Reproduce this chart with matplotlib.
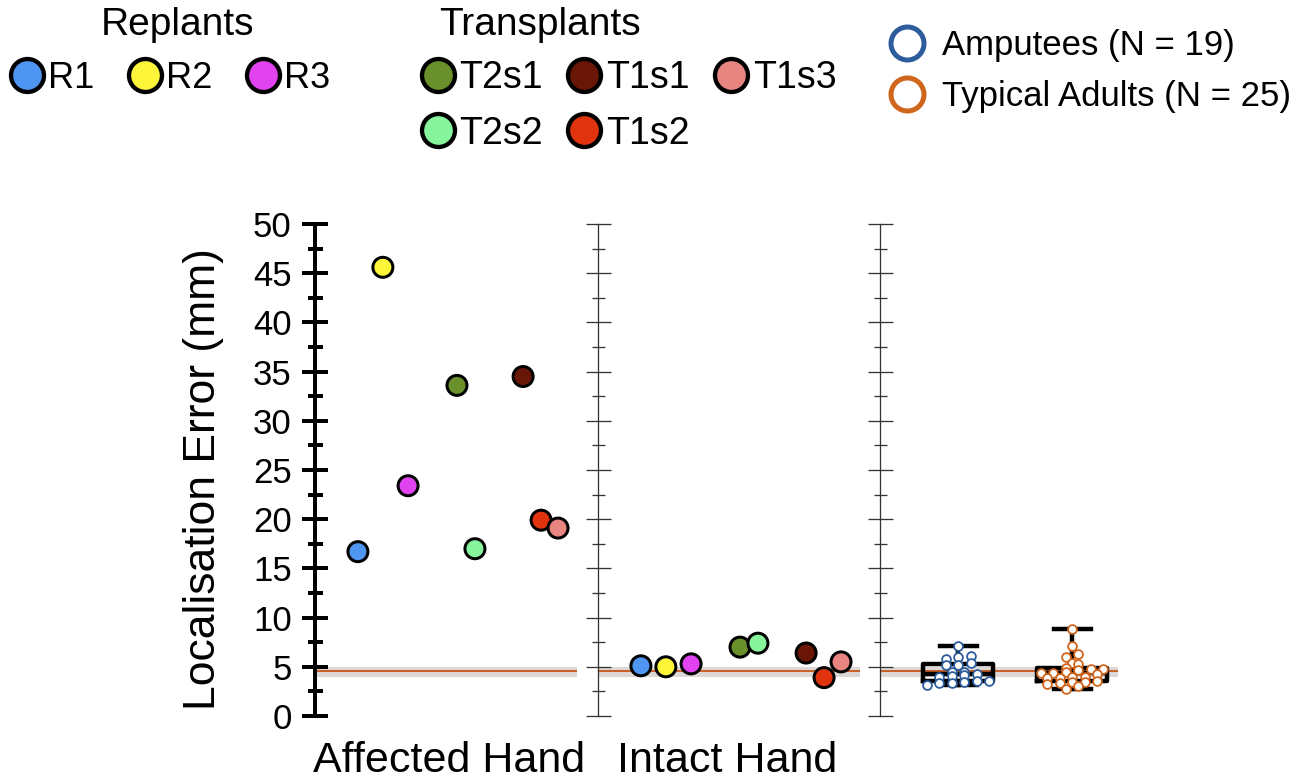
import numpy as np
import matplotlib
matplotlib.use("Agg")
import matplotlib.pyplot as plt
from matplotlib.lines import Line2D
from matplotlib.ticker import MultipleLocator

plt.rcParams['font.family'] = ['Liberation Sans', 'DejaVu Sans']

# ---------------- data ----------------
subjects = ['R1', 'R2', 'R3', 'T2s1', 'T2s2', 'T1s1', 'T1s2', 'T1s3']
subject_colors = ['#4f95f2', '#fdf53a', '#e043ef', '#69902a', '#86f59c',
                  '#6a1606', '#e2330f', '#e98581']
affected_error = [16.7, 45.6, 23.4, 33.6, 17.0, 34.5, 19.9, 19.1]
intact_error = [5.1, 5.0, 5.3, 7.0, 7.4, 6.4, 3.9, 5.5]
subject_x = [1.72, 2.72, 3.73, 5.69, 6.41, 8.34, 9.06, 9.74]

replants = ['R1', 'R2', 'R3']
transplants = ['T2s1', 'T2s2', 'T1s1', 'T1s2', 'T1s3']

amputees = [7.1, 5.76, 6.03, 6.1, 5.18, 5.35, 5.18, 4.5, 4.43, 4.07, 4.17,
            4.23, 3.93, 3.59, 3.39, 3.49, 3.59, 3.32, 3.15]
typical_adults = [8.8, 7.15, 6.3, 6.03, 5.42, 5.25, 4.74, 4.67, 4.84, 4.74,
                  4.4, 4.33, 4.5, 4.27, 3.83, 4.0, 3.93, 3.83, 3.59, 3.49,
                  3.49, 3.32, 3.05, 3.25, 2.71]
group_labels = ['Amputees (N = 19)', 'Typical Adults (N = 25)']
group_colors = ['#2e5d9e', '#d0651c']

ref_mean = 4.57
ref_lo, ref_hi = 3.95, 5.0

panel_labels = ['Affected Hand', 'Intact Hand']
ylabel = 'Localisation Error (mm)'

# ---------------- figure ----------------
W, H = 1299, 781
PX = 72 / 100.0
fig = plt.figure(figsize=(W / 100, H / 100), dpi=100)


def px_axes(left, right, top, bottom):
    return fig.add_axes([left / W, 1 - bottom / H, (right - left) / W, (bottom - top) / H])


ax1 = px_axes(315, 577, 224, 716)
ax2 = px_axes(598, 860, 224, 716)
ax3 = px_axes(880, 1118, 224, 716)

for ax in (ax1, ax2, ax3):
    ax.set_ylim(0, 50)
    for s in ('top', 'right', 'bottom'):
        ax.spines[s].set_visible(False)
    ax.set_xticks([])
    ax.yaxis.set_major_locator(MultipleLocator(5))
    ax.yaxis.set_minor_locator(MultipleLocator(2.5))
    ax.patch.set_alpha(0)
    ax.axhspan(ref_lo, ref_hi, color='#ddd8d5', lw=0, zorder=1)
    ax.axhline(ref_mean, color='#c8612a', lw=2 * PX, zorder=2)

ax1.spines['left'].set_linewidth(4 * PX)
ax1.tick_params(axis='y', which='major', direction='inout', length=27 * PX,
                width=4 * PX, labelsize=25, pad=7)
ax1.tick_params(axis='y', which='minor', direction='inout', length=15 * PX,
                width=4 * PX)
for ax in (ax2, ax3):
    ax.spines['left'].set_linewidth(1.3 * PX)
    ax.spines['left'].set_color('#333333')
    ax.tick_params(axis='y', which='major', direction='inout', length=25 * PX,
                   width=1.3 * PX, color='#333333', labelleft=False)
    ax.tick_params(axis='y', which='minor', direction='inout', length=13 * PX,
                   width=1.3 * PX, color='#333333')

for ax, vals in ((ax1, affected_error), (ax2, intact_error)):
    ax.set_xlim(0, 10.5)
    ax.scatter(subject_x, vals, s=(20 * PX) ** 2, c=subject_colors,
               edgecolors='black', linewidths=3 * PX, zorder=5, clip_on=False)

# ---- panel 3: box + column scatter ----
U = 114.0            # pixels per x unit
ppy = 492 / 50.0     # pixels per y unit
left3 = 1 - 78 / U
ax3.set_xlim(left3, left3 + 238 / U)


def row_offsets(values, row_px, spacing_px):
    """Group sorted values into rows of height row_px and spread each row
    symmetrically with a fixed horizontal spacing (column-scatter)."""
    vals = np.asarray(values, dtype=float)
    order = np.argsort(vals, kind='stable')
    offs = np.zeros(len(vals))
    rows, cur, start = [], [], None
    for i in order:
        y = vals[i] * ppy
        if start is None or y - start > row_px:
            if cur:
                rows.append(cur)
            cur, start = [i], y
        else:
            cur.append(i)
    if cur:
        rows.append(cur)
    for r in rows:
        n = len(r)
        for k, i in enumerate(r):
            offs[i] = (k - (n - 1) / 2.0) * spacing_px / U
    return offs


groups = [amputees, typical_adults]
positions = [1, 2]
ax3.boxplot(groups, positions=positions, widths=70 / U, whis=(0, 100),
            showfliers=False, manage_ticks=False, capwidths=37 / U,
            boxprops=dict(color='black', linewidth=3.2),
            whiskerprops=dict(color='black', linewidth=3.2),
            capprops=dict(color='black', linewidth=3.2),
            medianprops=dict(color='black', linewidth=3.2), zorder=3)
for pos, vals, col in zip(positions, groups, group_colors):
    offs = row_offsets(vals, 4.5, 12.5)
    ax3.scatter(pos + offs, vals, s=(8.8 * PX) ** 2, facecolors='white',
                edgecolors=col, linewidths=1.8 * PX, zorder=6, clip_on=False)

# ---- labels ----
fig.text(203 / W, 1 - 479 / H, ylabel, rotation=90, ha='center', va='center', fontsize=32)
fig.text(449 / W, 1 - 772 / H, panel_labels[0], ha='center', va='baseline', fontsize=31)
fig.text(727 / W, 1 - 772 / H, panel_labels[1], ha='center', va='baseline', fontsize=31)

# ---- legends ----
color_of = dict(zip(subjects, subject_colors))


def filled_handle(c):
    return Line2D([], [], ls='', marker='o', ms=33 * PX, mfc=c, mec='black', mew=4.3 * PX)


common = dict(loc='upper left', frameon=False, borderpad=0,
              borderaxespad=0, handlelength=1.0,
              bbox_transform=fig.transFigure, labelspacing=0.52)

leg1 = fig.legend([filled_handle(color_of[s]) for s in replants], replants,
                  ncol=3, columnspacing=0.9, handletextpad=0.08, fontsize=26,
                  bbox_to_anchor=(9 / W, 1 - 61 / H), **common)
leg2 = fig.legend([filled_handle(color_of[s]) for s in transplants], transplants,
                  ncol=3, columnspacing=0.6, handletextpad=0.08, fontsize=27,
                  bbox_to_anchor=(419 / W, 1 - 60 / H), **common)
hollow = [Line2D([], [], ls='', marker='o', ms=33 * PX, mfc='white', mec=c, mew=5 * PX)
          for c in group_colors]
leg3 = fig.legend(hollow, group_labels, handletextpad=0.5, fontsize=25,
                  bbox_to_anchor=(890 / W, 1 - 29 / H), **common)

fig.text(178 / W, 1 - 25 / H, 'Replants', ha='center', va='center', fontsize=28)
fig.text(540 / W, 1 - 25 / H, 'Transplants', ha='center', va='center', fontsize=28)

fig.savefig('out.png', dpi=100)
